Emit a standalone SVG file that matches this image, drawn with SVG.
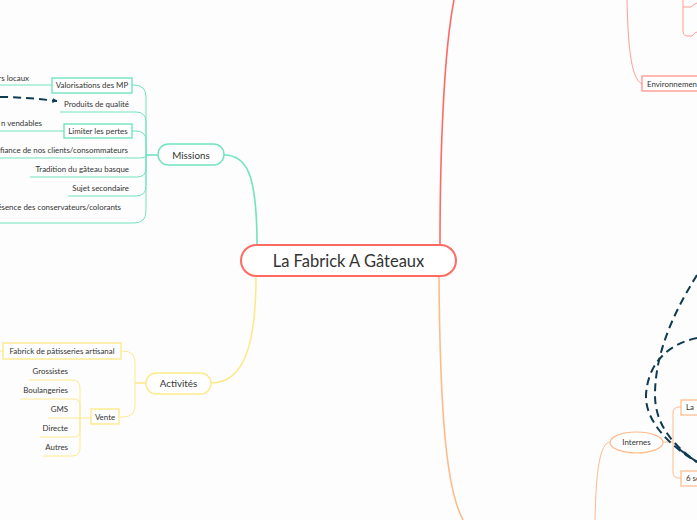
<svg xmlns="http://www.w3.org/2000/svg" width="697" height="520" viewBox="0 0 697 520">
<defs>
<marker id="arr" viewBox="0 0 10 10" refX="9" refY="5" markerWidth="5" markerHeight="5" orient="auto" markerUnits="userSpaceOnUse">
<path d="M0,0 L10,5 L0,10 z" fill="#0e3a52"/>
</marker>
<style>
text{font-family:Lato,"Noto Sans",sans-serif;fill:#333;}
.t{font-size:7.9px;}
.g{fill:none;stroke:#72e3bf;stroke-width:1;}
.gm{fill:none;stroke:#72e3bf;stroke-width:1.6;}
.y{fill:none;stroke:#fde98c;stroke-width:1;}
.ym{fill:none;stroke:#fde98c;stroke-width:1.6;}
.r{fill:none;stroke:#ff6a62;stroke-width:1.6;}
.rl{fill:none;stroke:#ff9d95;stroke-width:1;}
.o{fill:none;stroke:#ffba8a;stroke-width:1.6;}
.ol{fill:none;stroke:#ffba8a;stroke-width:1;}
.d{fill:none;stroke:#0e3a52;stroke-width:2;stroke-dasharray:8 5;}
.bg{fill:#fff;stroke:#72e3bf;stroke-width:1.4;}
.by{fill:#fff;stroke:#fde98c;stroke-width:1.4;}
.br{fill:#fff;stroke:#ff8a82;stroke-width:1.2;}
.bo{fill:#fff;stroke:#ffba8a;stroke-width:1.2;}
</style>
</defs>
<rect width="697" height="520" fill="#fdfdfd"/>
<g id="connectors">
<path class="gm" d="M224,155 C246,155 257,172 257,245"/>
<path class="ym" d="M211,383 C246,383 256,340 256,276"/>
<path class="r" d="M440,245 C440,150 444,50 454,0"/>
<path class="o" d="M439,276 C440,420 447,490 463,520"/>
<path class="gm" d="M158,155 H146"/>
<path class="g" d="M146,155 V97 Q146,85 134,85 H132"/>
<path class="g" d="M146,155 V122 Q146,112 136,112 H60"/>
<path class="g" d="M146,155 V141 Q146,131 136,131 H132"/>
<path class="g" d="M148,155 Q146,158 138,158 H0"/>
<path class="g" d="M146,155 V168 Q146,177 137,177 H30"/>
<path class="g" d="M146,155 V186 Q146,196 136,196 H68"/>
<path class="g" d="M146,155 V211 Q146,223 134,223 H0"/>
<path class="g" d="M52,85 H0"/>
<path class="g" d="M64,131 H0"/>
<path class="ym" d="M146,383 H135"/>
<path class="y" d="M135,383 V363 Q135,351 123,351 H121"/>
<path class="y" d="M135,383 V405 Q135,417 123,417 H119"/>
<path class="y" d="M3,351 H0"/>
<path class="y" d="M91,418 H48"/>
<path class="y" d="M80,418 V388 Q80,380 72,380 H29"/>
<path class="y" d="M80,418 V405 Q80,399 74,399 H20"/>
<path class="y" d="M80,418 V431 Q80,437 74,437 H40"/>
<path class="y" d="M80,418 V448 Q80,456 72,456 H43"/>
<path class="rl" d="M627,0 C628,40 630,78 642,84"/>
<path class="rl" d="M683,0 V31 Q683,36 688,36 H692 Q694,33 697,32"/>
<path class="rl" d="M683,7 H691 Q694,4 697,3"/>
<path class="ol" d="M595,520 C596,470 600,443 610,442"/>
<path class="ol" d="M663,442 H673"/>
<path class="ol" d="M673,442 V413 Q673,407 679,407 H681"/>
<path class="ol" d="M673,442 V472 Q673,478 679,478 H681"/>
<path class="d" d="M0,97 C20,97 40,99 57,101" marker-end="url(#arr)"/>
<path class="d" d="M697,275 C672,315 655,355 655,395 C655,420 668,442 697,462"/>
<path class="d" d="M697,338 C672,343 648,360 646,395 C645,420 668,445 697,462"/>
<path fill="none" stroke="#0e3a52" stroke-width="2" d="M679,449 Q688,456 697,462"/>
</g>
<g id="central">
<rect x="241" y="245" width="215" height="31" rx="15.5" fill="#fff" stroke="#ff6a62" stroke-width="2"/>
<text x="348.5" y="266.5" font-size="16.5" text-anchor="middle">La Fabrick A Gâteaux</text>
</g>
<g id="missions">
<rect x="158" y="144" width="66" height="21" rx="10.5" class="bg"/>
<text x="191" y="158.5" font-size="9.8" text-anchor="middle">Missions</text>
</g>
<g id="m-locaux"><text class="t" x="29" y="80.5" text-anchor="end">rs locaux</text></g>
<g id="m-valorisations">
<rect x="52" y="78" width="80" height="15" class="bg"/>
<text class="t" x="92" y="88" text-anchor="middle">Valorisations des MP</text>
</g>
<g id="m-produits"><text class="t" x="129" y="107" text-anchor="end">Produits de qualité</text></g>
<g id="m-vendables"><text class="t" x="42" y="126" text-anchor="end">n vendables</text></g>
<g id="m-limiter">
<rect x="64" y="124" width="68" height="14" class="bg"/>
<text class="t" x="98" y="133.5" text-anchor="middle">Limiter les pertes</text>
</g>
<g id="m-confiance"><text class="t" x="128" y="152.5" text-anchor="end">nfiance de nos clients/consommateurs</text></g>
<g id="m-tradition"><text class="t" x="129" y="171.5" text-anchor="end">Tradition du gâteau basque</text></g>
<g id="m-sujet"><text class="t" x="129" y="190.5" text-anchor="end">Sujet secondaire</text></g>
<g id="m-conservateurs"><text class="t" x="121" y="209.5" text-anchor="end">ésence des conservateurs/colorants</text></g>
<g id="activites">
<rect x="146" y="373" width="65" height="21" rx="10.5" class="by"/>
<text x="178.5" y="387" font-size="9.8" text-anchor="middle">Activités</text>
</g>
<g id="a-fabrick">
<rect x="3" y="343" width="118" height="16" class="by"/>
<text class="t" x="62" y="353.5" text-anchor="middle">Fabrick de pâtisseries artisanal</text>
</g>
<g id="a-vente">
<rect x="91" y="409" width="28" height="15" class="by"/>
<text class="t" x="105" y="419.5" text-anchor="middle">Vente</text>
</g>
<g id="v-grossistes"><text class="t" x="68" y="373.5" text-anchor="end">Grossistes</text></g>
<g id="v-boulangeries"><text class="t" x="68" y="392.5" text-anchor="end">Boulangeries</text></g>
<g id="v-gms"><text class="t" x="68" y="411.5" text-anchor="end">GMS</text></g>
<g id="v-directe"><text class="t" x="68" y="430.5" text-anchor="end">Directe</text></g>
<g id="v-autres"><text class="t" x="68" y="449.5" text-anchor="end">Autres</text></g>
<g id="environnement">
<rect x="642" y="76" width="60" height="15" class="br"/>
<text class="t" x="647" y="86.5">Environnement</text>
</g>
<g id="internes">
<ellipse cx="636.5" cy="442.5" rx="26.5" ry="10.5" class="bo"/>
<text class="t" x="636.5" y="445" text-anchor="middle">Internes</text>
</g>
<g id="i-la">
<rect x="681" y="400" width="20" height="15" class="bo"/>
<text class="t" x="686" y="410">La</text>
</g>
<g id="i-6s">
<rect x="681" y="471" width="20" height="15" class="bo"/>
<text class="t" x="686" y="481">6 se</text>
</g>
</svg>
